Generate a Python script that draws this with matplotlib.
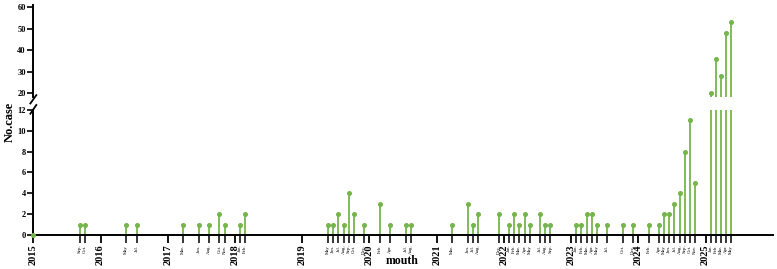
import matplotlib.pyplot as plt

plt.rcParams['font.family'] = ['Liberation Serif', 'DejaVu Serif']

# monthly case counts (year, month, cases)
years = [2015, 2015,
         2016, 2016,
         2017, 2017, 2017, 2017, 2017,
         2018, 2018,
         2019, 2019, 2019, 2019, 2019, 2019, 2019,
         2020, 2020, 2020, 2020,
         2021, 2021, 2021, 2021, 2021,
         2022, 2022, 2022, 2022, 2022, 2022, 2022, 2022,
         2023, 2023, 2023, 2023, 2023, 2023, 2023, 2023,
         2024, 2024, 2024, 2024, 2024, 2024, 2024, 2024, 2024,
         2025, 2025, 2025, 2025, 2025]
months = [9, 10,
          5, 7,
          3, 6, 8, 10, 11,
          1, 2,
          5, 6, 7, 8, 9, 10, 12,
          2, 4, 7, 8,
          3, 6, 7, 8, 12,
          1, 2, 3, 4, 5, 7, 8, 9,
          1, 2, 3, 4, 5, 7, 10, 12,
          2, 4, 5, 6, 7, 8, 9, 10, 11,
          1, 2, 3, 4, 5]
cases = [1, 1,
         1, 1,
         1, 1, 1, 2, 1,
         1, 2,
         1, 1, 2, 1, 4, 2, 1,
         3, 1, 1, 1,
         1, 3, 1, 2, 2,
         1, 2, 1, 2, 1, 2, 1, 1,
         1, 1, 2, 2, 1, 1, 1, 1,
         1, 1, 2, 2, 3, 4, 8, 11, 5,
         20, 36, 28, 48, 53]

year_ticks = list(range(2015, 2026))
month_names = ['Jan.', 'Feb.', 'Mar.', 'Apr.', 'May', 'Jun.',
               'Jul.', 'Aug.', 'Sep.', 'Oct.', 'Nov.', 'Dec.']

green = '#76B54B'

# months sit inside each year span (12 slots between year ticks)
x = [y + m / 13 for y, m in zip(years, months)]
month_labels = [month_names[m - 1] for m in months]

fig = plt.figure(figsize=(7.77, 2.69), dpi=100)
left, width = 0.0429, 0.9516
ax_top = fig.add_axes([left, 0.6394, width, 0.342])
ax_bot = fig.add_axes([left, 0.1264, width, 0.4647])

for ax in (ax_top, ax_bot):
    ax.vlines(x, 0, cases, color=green, linewidth=1.3)
    ax.plot(x, cases, 'o', color=green, markersize=2.6)
    ax.set_xlim(2015, 2026)
    ax.spines['top'].set_visible(False)
    ax.spines['right'].set_visible(False)
    ax.spines['left'].set_linewidth(1.4)
    ax.tick_params(axis='y', length=4, width=1.2, pad=1.5, labelsize=6)

ax_bot.plot([2015], [0], 'o', color=green, markersize=2.6, clip_on=False, zorder=5)

ax_top.set_ylim(18.3, 61)
ax_top.set_yticks([20, 30, 40, 50, 60])
ax_top.spines['bottom'].set_visible(False)
ax_top.tick_params(axis='x', which='both', bottom=False, labelbottom=False)

ax_bot.set_ylim(0, 12)
ax_bot.set_yticks(range(0, 13, 2))
ax_bot.spines['bottom'].set_linewidth(1.4)
for ax in (ax_top, ax_bot):
    for lab in ax.get_yticklabels():
        lab.set_fontweight('bold')

ax_bot.set_xticks(year_ticks)
ax_bot.set_xticklabels([str(y) for y in year_ticks], rotation=90,
                       fontsize=7.5, fontweight='bold')
ax_bot.set_xticks(x, minor=True)
ax_bot.set_xticklabels(month_labels, minor=True, rotation=90, fontsize=3.5)
ax_bot.tick_params(axis='x', which='major', length=6, width=1.3, pad=1)
ax_bot.tick_params(axis='x', which='minor', length=6, width=1.1, pad=1)

# axis break marks
d = dict(color='black', linewidth=1.3, clip_on=False)
ax_top.plot([-0.004, 0.004], [-0.07, 0.02], transform=ax_top.transAxes, **d)
ax_bot.plot([-0.004, 0.004], [0.97, 1.04], transform=ax_bot.transAxes, **d)

fig.text(0.013, 0.546, 'No.case', rotation=90, ha='center', va='center',
         fontsize=9, fontweight='bold')
fig.text(0.517, 0.028, 'mouth', ha='center', va='center',
         fontsize=8.5, fontweight='bold')

fig.savefig('out.png', dpi=100)
